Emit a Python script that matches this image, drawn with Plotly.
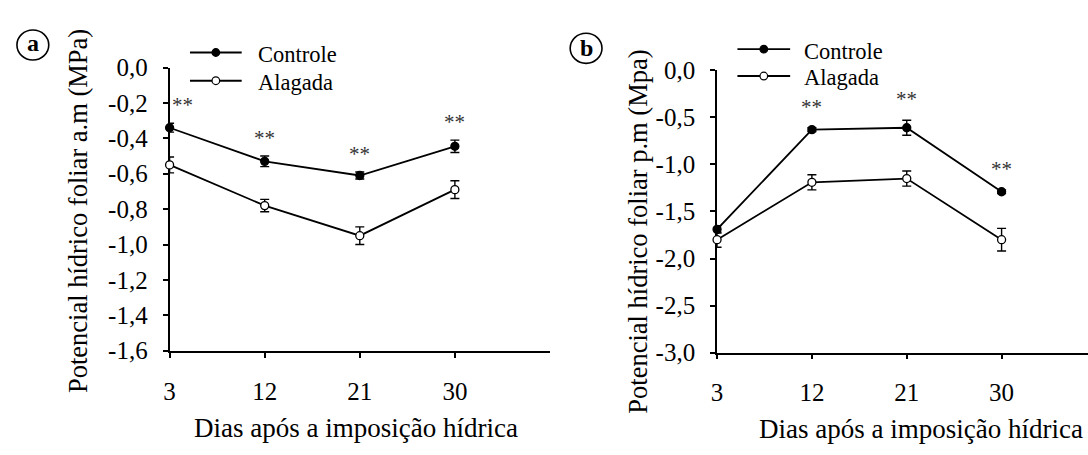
import plotly.graph_objects as go

# Days after the start of the water treatment
days = [3, 12, 21, 30]

# (a) leaf water potential, morning (MPa)
am_controle = [-0.34, -0.53, -0.61, -0.445]
am_controle_err = [0.025, 0.03, 0.02, 0.035]
am_alagada = [-0.55, -0.78, -0.95, -0.69]
am_alagada_err = [0.045, 0.035, 0.05, 0.05]
am_signif = ["**", "**", "**", "**"]

# (b) leaf water potential, afternoon (MPa)
pm_controle = [-1.69, -0.63, -0.61, -1.29]
pm_controle_err = [0.04, 0.02, 0.08, 0.02]
pm_alagada = [-1.80, -1.19, -1.15, -1.80]
pm_alagada_err = [0.08, 0.08, 0.08, 0.12]
pm_signif = ["", "**", "**", "**"]

series_names = ["Controle", "Alagada"]

# Tick labels (comma decimal separator)
x_ticks = [3, 12, 21, 30]
x_ticktext = ["3", "12", "21", "30"]
am_yticks = [0.0, -0.2, -0.4, -0.6, -0.8, -1.0, -1.2, -1.4, -1.6]
am_yticktext = ["0,0", "-0,2", "-0,4", "-0,6", "-0,8", "-1,0", "-1,2", "-1,4", "-1,6"]
pm_yticks = [0.0, -0.5, -1.0, -1.5, -2.0, -2.5, -3.0]
pm_yticktext = ["0,0", "-0,5", "-1,0", "-1,5", "-2,0", "-2,5", "-3,0"]

W, H = 1088, 455
FONT = "'Liberation Serif', 'Times New Roman', Times, serif"


def px(x):
    return x / W


def py(y):
    return 1 - y / H


fig = go.Figure()


def add_series(xa, ya, yvals, errs, name, filled):
    fig.add_trace(go.Scatter(
        x=days, y=yvals, xaxis=xa, yaxis=ya, name=name, showlegend=False,
        mode="lines+markers", cliponaxis=False,
        line=dict(color="black", width=1.8),
        marker=dict(symbol="circle", size=8,
                    color="black" if filled else "white",
                    line=dict(color="black", width=1.3)),
        error_y=dict(type="data", array=errs, visible=True,
                     color="black", thickness=1.4, width=4.5),
    ))


add_series("x", "y", am_controle, am_controle_err, series_names[0], True)
add_series("x", "y", am_alagada, am_alagada_err, series_names[1], False)
add_series("x2", "y2", pm_controle, pm_controle_err, series_names[0], True)
add_series("x2", "y2", pm_alagada, pm_alagada_err, series_names[1], False)

axis_common = dict(
    showline=True, linecolor="black", linewidth=1.8, showgrid=False,
    zeroline=False, ticks="outside", ticklen=5, tickwidth=1.5,
    tickcolor="black", layer="below traces",
    tickfont=dict(family=FONT, size=25, color="black"),
)

fig.update_layout(
    width=W, height=H,
    margin=dict(l=0, r=0, t=0, b=0),
    paper_bgcolor="white", plot_bgcolor="white",
    font=dict(family=FONT, color="black"),
    showlegend=False,
    xaxis=dict(domain=[px(164.5), px(547)], range=[3, 39], anchor="y",
               tickvals=x_ticks, ticktext=x_ticktext, ticklabelstandoff=12,
               **axis_common),
    yaxis=dict(domain=[py(359), py(58)], range=[-1.6, 0], anchor="x",
               tickvals=am_yticks, ticktext=am_yticktext, ticklabelstandoff=10,
               **axis_common),
    xaxis2=dict(domain=[px(715), 1.0], range=[3, 38.2], anchor="y2",
                tickvals=x_ticks, ticktext=x_ticktext, ticklabelstandoff=12,
                **axis_common),
    yaxis2=dict(domain=[py(361), py(61)], range=[-3.0, 0], anchor="x2",
                tickvals=pm_yticks, ticktext=pm_yticktext, ticklabelstandoff=10,
                **axis_common),
)

# Significance marks above the control series
for xa, ya, vals, errs, marks, lift in [
    ("x", "y", am_controle, am_controle_err, am_signif, 4),
    ("x2", "y2", pm_controle, pm_controle_err, pm_signif, 7),
]:
    for i, (d, v, e, m) in enumerate(zip(days, vals, errs, marks)):
        if not m:
            continue
        fig.add_annotation(
            x=d, y=v + e, xref=xa, yref=ya, text=m, showarrow=False,
            xanchor="center", yanchor="bottom", yshift=lift,
            xshift=13 if (xa == "x" and i == 0) else 0,
            font=dict(family=FONT, size=21, color="#333333"),
        )

# Legend keys (line with a marker) for each panel
legend_keys = [
    # line start, line end, row heights, text left edge
    (185, 237, [42, 72], 251.5),
    (735.5, 788.5, [38.5, 67], 800),
]
for x0, x1, rows, tx in legend_keys:
    for name, yrow, filled in zip(series_names, rows, [True, False]):
        fig.add_shape(type="line", xref="paper", yref="paper",
                      x0=px(x0), x1=px(x1), y0=py(yrow), y1=py(yrow),
                      line=dict(color="black", width=1.8))
        fig.add_shape(type="circle", xref="paper", yref="paper",
                      xsizemode="pixel", ysizemode="pixel",
                      xanchor=px((x0 + x1) / 2), yanchor=py(yrow),
                      x0=-3.8, x1=3.8, y0=-3.8, y1=3.8,
                      fillcolor="black" if filled else "white",
                      line=dict(color="black", width=1.2))
        fig.add_annotation(
            x=px(tx), y=py(yrow + 2), xref="paper", yref="paper", text=name,
            showarrow=False, xanchor="left", yanchor="middle",
            font=dict(family=FONT, size=22.5, color="black"),
        )

# Axis titles
titles = [
    ("Dias após a imposição hídrica", 352, 441, 0),
    ("Dias após a imposição hídrica", 920.5, 442.5, 0),
    ("Potencial hídrico foliar a.m (MPa)", 72.5, 210.5, -90),
    ("Potencial hídrico foliar p.m (Mpa)", 635.5, 232.5, -90),
]
for text, x, y, ang in titles:
    fig.add_annotation(
        x=px(x), y=py(y), xref="paper", yref="paper", text=text,
        showarrow=False, xanchor="center", yanchor="middle", textangle=ang,
        font=dict(family=FONT, size=27 if ang == 0 else 26.5, color="black"),
    )

# Circled panel letters
for letter, cx, cy, ty in [("a", 27, 34, 31.5), ("b", 583.3, 37.5, 37.5)]:
    r = 16
    fig.add_shape(type="circle", xref="paper", yref="paper",
                  x0=px(cx - r), x1=px(cx + r), y0=py(cy + r), y1=py(cy - r),
                  line=dict(color="black", width=1.6))
    fig.add_annotation(
        x=px(cx), y=py(ty), xref="paper", yref="paper",
        text="<b>%s</b>" % letter, showarrow=False,
        xanchor="center", yanchor="middle",
        font=dict(family=FONT, size=24, color="black"),
    )

fig.write_html("out.html")
